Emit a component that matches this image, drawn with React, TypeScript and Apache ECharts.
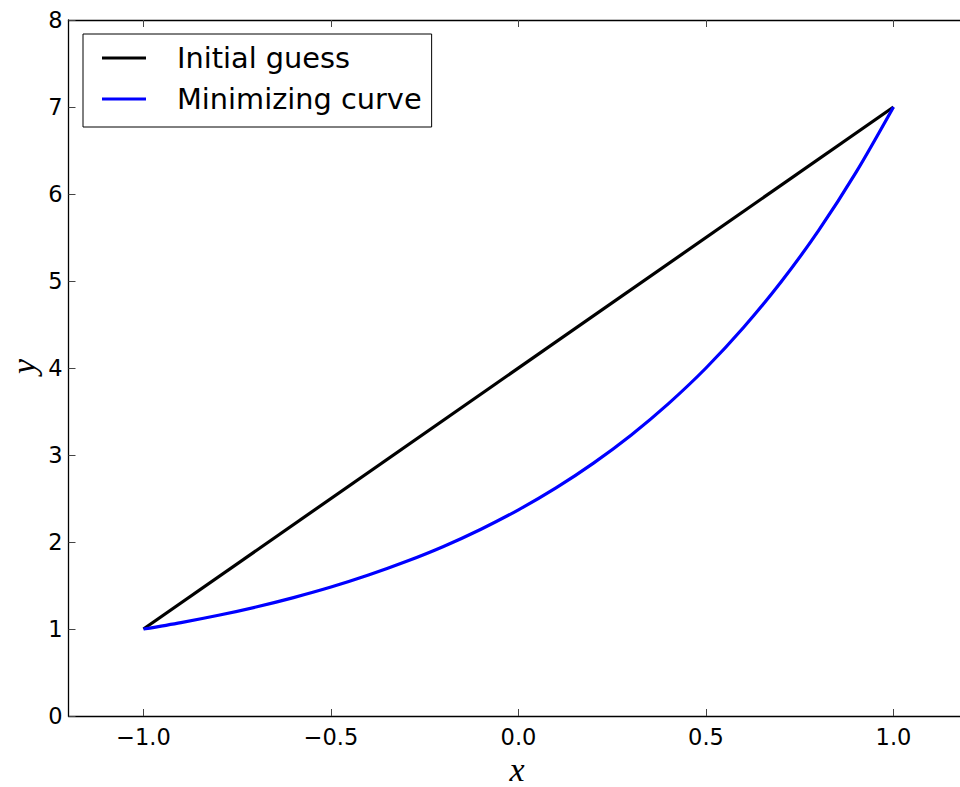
import React, { useEffect, useRef } from "react";
import * as echarts from "echarts";

// x positions of the sampled points
const xValues = [-1.0, -0.9, -0.8, -0.7, -0.6, -0.5, -0.4, -0.3, -0.2, -0.1, 0.0, 0.1, 0.2, 0.3, 0.4, 0.5, 0.6, 0.7, 0.8, 0.9, 1.0];
// Minimizing curve
const minimizingY = [1.0, 1.074, 1.158, 1.253, 1.361, 1.482, 1.62, 1.775, 1.949, 2.147, 2.37, 2.622, 2.907, 3.228, 3.591, 4.0, 4.465, 4.988, 5.579, 6.248, 7.0];
// Initial guess: straight line between endpoints
const initialX = [-1.0, 1.0];
const initialY = [1.0, 7.0];
// tick values
const xTicks = [-1.0, -0.5, 0.0, 0.5, 1.0];
const yTicks = [0, 1, 2, 3, 4, 5, 6, 7, 8];

const FONT = "DejaVu Sans";

export default function App() {
  const ref = useRef<HTMLDivElement>(null);
  useEffect(() => {
    if (!ref.current) return;
    const chart = echarts.init(ref.current, undefined, { renderer: "svg" });
    const fmtX = (v: number) => (v < 0 ? "\u2212" + Math.abs(v).toFixed(1) : v.toFixed(1));
    const tickStyle = { color: "#444", width: 1 };
    const axisLineStyle = { color: "#000", width: 1.3 };
    const xBase = {
      type: "value",
      min: -1.2,
      max: 1.2,
      splitLine: { show: false },
      axisLine: { show: true, onZero: false, lineStyle: axisLineStyle },
      axisTick: { show: true, inside: true, length: 7, customValues: xTicks, lineStyle: tickStyle },
    };
    const yBase = {
      type: "value",
      min: 0,
      max: 8,
      interval: 1,
      splitLine: { show: false },
      axisLine: { show: true, onZero: false, lineStyle: axisLineStyle },
      axisTick: { show: true, inside: true, length: 7, lineStyle: tickStyle },
    };
    chart.setOption({
      animation: false,
      backgroundColor: "#fff",
      grid: { left: 68.5, right: 11.5, top: 20, bottom: 71, containLabel: false },
      xAxis: [
        {
          ...xBase,
          position: "bottom",
          axisLabel: {
            customValues: xTicks,
            formatter: fmtX,
            fontSize: 22.5,
            fontFamily: FONT,
            color: "#000",
            margin: 9,
          },
        },
        { ...xBase, position: "top", axisLabel: { show: false } },
      ],
      yAxis: [
        {
          ...yBase,
          position: "left",
          axisLabel: {
            customValues: yTicks,
            formatter: (v: number) => String(v),
            fontSize: 22.5,
            fontFamily: FONT,
            color: "#000",
            margin: 6,
          },
        },
        { ...yBase, position: "right", axisLabel: { show: false } },
      ],
      legend: {
        orient: "vertical",
        left: 83,
        top: 34,
        padding: [3.5, 10, 7.5, 19],
        itemGap: 0,
        itemWidth: 44,
        itemHeight: 3,
        icon: "rect",
        backgroundColor: "#fff",
        borderColor: "#000",
        borderWidth: 1,
        borderRadius: 0,
        textStyle: {
          fontFamily: FONT,
          fontSize: 28.8,
          color: "#000",
          lineHeight: 41,
          padding: [0, 0, 0, 26],
        },
        data: ["Initial guess", "Minimizing curve"],
      },
      graphic: [
        {
          type: "text",
          x: 517,
          y: 769,
          style: {
            text: "x",
            fontFamily: "Liberation Serif",
            fontStyle: "italic",
            fontSize: 34,
            fill: "#000",
            align: "center",
            verticalAlign: "middle",
          },
        },
        {
          type: "text",
          x: 23,
          y: 366.5,
          rotation: Math.PI / 2,
          style: {
            text: "y",
            fontFamily: "Liberation Serif",
            fontStyle: "italic",
            fontSize: 34,
            fill: "#000",
            align: "center",
            verticalAlign: "middle",
          },
        },
      ],
      series: [
        {
          name: "Initial guess",
          type: "line",
          xAxisIndex: 0,
          yAxisIndex: 0,
          data: initialX.map((x, i) => [x, initialY[i]]),
          symbol: "none",
          lineStyle: { color: "#000", width: 3.2 },
          itemStyle: { color: "#000" },
        },
        {
          name: "Minimizing curve",
          type: "line",
          xAxisIndex: 0,
          yAxisIndex: 0,
          data: xValues.map((x, i) => [x, minimizingY[i]]),
          symbol: "none",
          smooth: 0.3,
          lineStyle: { color: "#0000ff", width: 3.2, join: "round" },
          itemStyle: { color: "#0000ff" },
        },
      ],
    });
    return () => chart.dispose();
  }, []);
  return (
    <div style={{ position: "absolute", left: 0, top: 0, width: 960, height: 787, overflow: "hidden" }}>
      <div ref={ref} style={{ width: 980, height: 787 }} />
    </div>
  );
}
